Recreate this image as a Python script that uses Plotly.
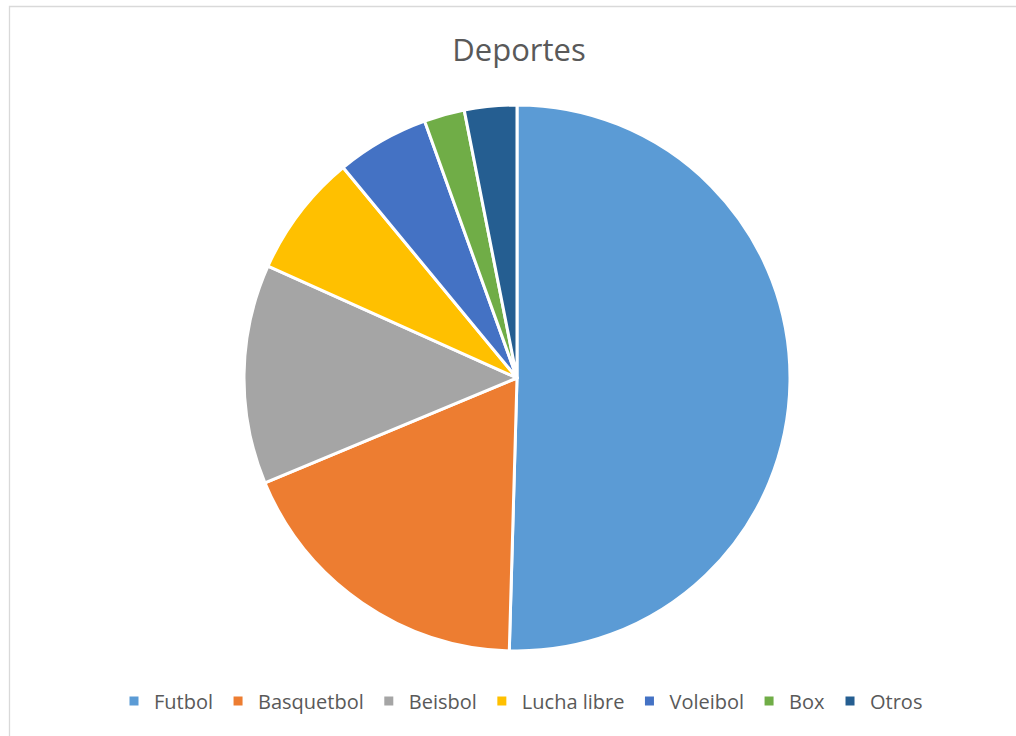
import plotly.graph_objects as go

labels = ["Futbol", "Basquetbol", "Beisbol", "Lucha libre", "Voleibol", "Box", "Otros"]
values = [50.5, 18.3, 13.0, 7.3, 5.5, 2.4, 3.1]
colors = ["#5B9BD5", "#ED7D31", "#A5A5A5", "#FFC000", "#4472C4", "#70AD47", "#255E91"]

W, H = 1016, 736
cx, cy, r = 517, 378, 273

fig = go.Figure(go.Pie(
    labels=labels, values=values, sort=False, direction="clockwise", rotation=0,
    marker=dict(colors=colors, line=dict(color="white", width=3)),
    textinfo="none", hoverinfo="label+value",
    domain=dict(x=[(cx - r) / W, (cx + r) / W], y=[(H - cy - r) / H, (H - cy + r) / H]),
))

fig.update_layout(
    width=W, height=H, margin=dict(l=0, r=0, t=0, b=0),
    paper_bgcolor="white", plot_bgcolor="white",
    title=dict(text="Deportes", x=(cx + 2) / W, xanchor="center", y=1 - 50 / H, yanchor="middle",
               font=dict(family="Open Sans", size=31, color="#595959")),
    legend=dict(orientation="h", x=(cx + 4) / W, xanchor="center", y=1 - 701 / H, yanchor="middle",
                font=dict(family="Open Sans", size=20, color="#595959"), itemwidth=30,
                traceorder="normal"),
    shapes=[dict(type="rect", xref="paper", yref="paper", x0=9.5 / W, x1=1.05, y0=-0.05, y1=1 - 6.5 / H,
                 line=dict(color="#D9D9D9", width=1.3), fillcolor="rgba(0,0,0,0)")],
)

fig.write_html("out.html")
